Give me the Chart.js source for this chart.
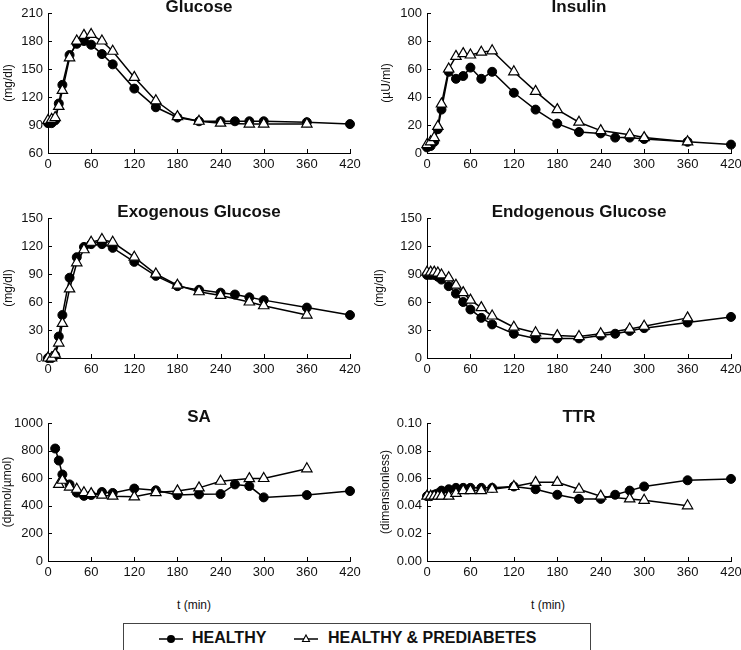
<!DOCTYPE html>
<html>
<head>
<meta charset="utf-8">
<script src="https://cdn.jsdelivr.net/npm/chart.js@4/dist/chart.umd.min.js"></script>
<style>
  body { margin: 0; width: 741px; height: 650px; position: relative; overflow: hidden; background: #fff;
         font-family: "Liberation Sans", Arial, sans-serif; color: #111; }
  canvas { position: absolute; }
  .xlab { position: absolute; top: 598px; font-size: 12px; transform: translateX(-50%); white-space: nowrap; }
  #legend { position: absolute; left: 123px; top: 623px; width: 466px; height: 30px; border: 1px solid #444;
            font-size: 16px; font-weight: bold; }
  #legend span { position: absolute; top: 5px; }
  #legend svg { position: absolute; top: 9px; }
</style>
</head>
<body>

<div class="xlab" style="left:194px">t (min)</div>
<div class="xlab" style="left:548px">t (min)</div>

<div id="legend">
  <svg style="left:34px" width="26" height="12"><line x1="1" y1="6" x2="25" y2="6" stroke="#000" stroke-width="1.5"/><circle cx="13" cy="6" r="4" fill="#000"/></svg>
  <span style="left:68px">HEALTHY</span>
  <svg style="left:169px" width="26" height="12"><line x1="1" y1="6" x2="25" y2="6" stroke="#000" stroke-width="1.5"/><polygon points="13,2 16.5,8.5 9.5,8.5" fill="#fff" stroke="#000" stroke-width="1.1"/></svg>
  <span style="left:204px">HEALTHY &amp; PREDIABETES</span>
</div>

<script>
// sampling times (min)
const timesHealthy = [0, 5, 10, 15, 20, 30, 40, 50, 60, 75, 90, 120, 150, 180, 210, 240, 260, 280, 300, 360, 420];
const timesPrediab = [0, 5, 10, 15, 20, 30, 40, 50, 60, 75, 90, 120, 150, 180, 210, 240, 280, 300, 360];

const glucoseHealthy = [92, 92, 95, 113, 133, 165, 177, 180, 176, 166, 155, 129, 109, 98, 94, 94, 94, 94, 94, 93, 91];
const glucosePrediab = [95, 96, 98, 110, 127, 162, 180, 186, 187, 180, 169, 141, 116, 99, 94, 92, 91, 91, 91];

const insulinHealthy = [4, 5, 8, 17, 31, 58, 53, 55, 61, 53, 58, 43, 31, 21, 15, 14, 11, 11, 10, 8, 6];
const insulinPrediab = [6, 8, 11, 19, 35, 60, 69, 71, 70, 72, 73, 58, 44, 31, 22, 16, 13, 11, 8];

const exoHealthy = [0, 0, 3, 23, 46, 86, 108, 119, 122, 122, 118, 103, 88, 77, 73, 70, 68, 65, 62, 54, 46];
const exoPrediab = [0, 0, 4, 16, 37, 74, 102, 116, 124, 127, 124, 108, 90, 78, 71, 67, 60, 56, 46];

const endoHealthy = [89, 89, 89, 87, 84, 77, 69, 60, 52, 43, 36, 26, 21, 21, 21, 24, 26, 29, 32, 38, 44];
const endoPrediab = [92, 92, 92, 91, 89, 86, 78, 70, 62, 54, 45, 33, 27, 24, 23, 26, 31, 34, 43];

const saHealthy = [null, null, 815, 728, 627, 555, 495, 472, 478, 500, 493, 525, 512, 478, 483, 485, 555, 543, 461, 478, 507];
const saPrediab = [null, null, null, 555, 585, 536, 520, 495, 488, 477, 470, 465, 496, 508, 530, 578, 597, 598, 668];

const ttrHealthy = [0.047, 0.047, 0.048, 0.049, 0.051, 0.052, 0.053, 0.053, 0.053, 0.053, 0.053, 0.054, 0.052, 0.048, 0.045, 0.045, 0.048, 0.051, 0.054, 0.0585, 0.0595];
const ttrPrediab = [0.047, 0.047, 0.047, 0.047, 0.047, 0.047, 0.049, 0.051, 0.051, 0.051, 0.052, 0.054, 0.057, 0.057, 0.052, 0.047, 0.045, 0.044, 0.040];

const panels = [
  {title: 'Glucose', unit: '(mg/dl)', healthy: glucoseHealthy, prediab: glucosePrediab, yMin: 60, yMax: 210, yStep: 30, row: 0, col: 0, unitPad: 1},
  {title: 'Insulin', unit: '(\u00b5U/ml)', healthy: insulinHealthy, prediab: insulinPrediab, yMin: 0, yMax: 100, yStep: 20, row: 0, col: 1, unitPad: 9},
  {title: 'Exogenous Glucose', unit: '(mg/dl)', healthy: exoHealthy, prediab: exoPrediab, yMin: 0, yMax: 150, yStep: 30, row: 1, col: 0, unitPad: 1},
  {title: 'Endogenous Glucose', unit: '(mg/dl)', healthy: endoHealthy, prediab: endoPrediab, yMin: 0, yMax: 150, yStep: 30, row: 1, col: 1, unitPad: 2},
  {title: 'SA', unit: '(dpmol/\u00b5mol)', healthy: saHealthy, prediab: saPrediab, yMin: 0, yMax: 1000, yStep: 200, row: 2, col: 0, unitPad: 0},
  {title: 'TTR', unit: '(dimensionless)', healthy: ttrHealthy, prediab: ttrPrediab, yMin: 0, yMax: 0.1, yStep: 0.02, row: 2, col: 1, unitPad: 8, decimals: 2}
];

// layout of the grid
const plotTop = [13, 218, 423];
const plotBottom = [153, 358, 561];
const canvasLeft = [0, 370];
const plotLeft = [48, 427];
const plotRight = [350, 731];
const canvasW = [370, 380];
const xAxisH = 22;

Chart.defaults.font.family = '"Liberation Sans", Arial, sans-serif';
Chart.defaults.color = '#111';

function toPoints(times, values) {
  return times.map((t, i) => ({x: t, y: values[i]})).filter(p => p.y !== null);
}

// small tick marks pointing into the plot
const inwardTicks = {
  id: 'inwardTicks',
  beforeDatasetsDraw(chart) {
    const {ctx, chartArea, scales} = chart;
    ctx.save();
    ctx.strokeStyle = '#000';
    ctx.lineWidth = 1;
    ctx.beginPath();
    scales.x.ticks.forEach(t => {
      const px = Math.round(scales.x.getPixelForValue(t.value)) + 0.5;
      ctx.moveTo(px, chartArea.bottom);
      ctx.lineTo(px, chartArea.bottom - 4);
    });
    scales.y.ticks.forEach(t => {
      const py = Math.round(scales.y.getPixelForValue(t.value)) + 0.5;
      ctx.moveTo(chartArea.left, py);
      ctx.lineTo(chartArea.left + 4, py);
    });
    ctx.stroke();
    ctx.restore();
  }
};

panels.forEach(p => {
  const top = plotTop[p.row] - 13;
  const h = plotBottom[p.row] - top + xAxisH;
  const w = canvasW[p.col];
  const cv = document.createElement('canvas');
  cv.width = w; cv.height = h;
  cv.style.left = canvasLeft[p.col] + 'px';
  cv.style.top = top + 'px';
  cv.style.width = w + 'px'; cv.style.height = h + 'px';
  document.body.appendChild(cv);

  const yWidth = plotLeft[p.col] - canvasLeft[p.col];
  const padRight = w - (plotRight[p.col] - canvasLeft[p.col]);

  new Chart(cv, {
    type: 'line',
    data: {
      datasets: [
        {label: 'HEALTHY', data: toPoints(timesHealthy, p.healthy), borderColor: '#000', backgroundColor: '#000',
         borderWidth: 1.5, pointStyle: 'circle', pointRadius: 4.5, pointBackgroundColor: '#000',
         pointBorderColor: '#000', pointBorderWidth: 1, order: 2, clip: false},
        {label: 'HEALTHY & PREDIABETES', data: toPoints(timesPrediab, p.prediab), borderColor: '#000', backgroundColor: '#fff',
         borderWidth: 1.5, pointStyle: 'triangle', pointRadius: 6, pointBackgroundColor: '#fff',
         pointBorderColor: '#000', pointBorderWidth: 1.2, order: 1, clip: false}
      ]
    },
    options: {
      responsive: false,
      animation: false,
      devicePixelRatio: 1,
      events: [],
      layout: {padding: {left: 0, right: padRight, top: 0, bottom: 0}},
      plugins: {
        legend: {display: false},
        tooltip: {enabled: false},
        title: {display: true, text: p.title, fullSize: false, color: '#111',
                font: {size: 17, weight: 'bold', lineHeight: 1}, padding: {top: -1.5, bottom: -2.5}}
      },
      scales: {
        x: {
          type: 'linear', min: 0, max: 420,
          ticks: {stepSize: 60, font: {size: 13}, padding: 4, maxRotation: 0, autoSkip: false},
          grid: {display: true, drawOnChartArea: false, drawTicks: false},
          border: {display: true, color: '#000', width: 1},
          afterFit: s => { s.height = xAxisH; }
        },
        y: {
          min: p.yMin, max: p.yMax,
          ticks: {stepSize: p.yStep, font: {size: 13}, padding: 5,
                  callback: v => p.decimals ? v.toFixed(p.decimals) : v},
          grid: {display: true, drawOnChartArea: false, drawTicks: false},
          border: {display: true, color: '#000', width: 1},
          title: {display: true, text: p.unit, font: {size: 12}, padding: {top: p.unitPad, bottom: 0}},
          afterFit: s => { s.width = yWidth; }
        }
      }
    },
    plugins: [inwardTicks]
  });
});
</script>
</body>
</html>
